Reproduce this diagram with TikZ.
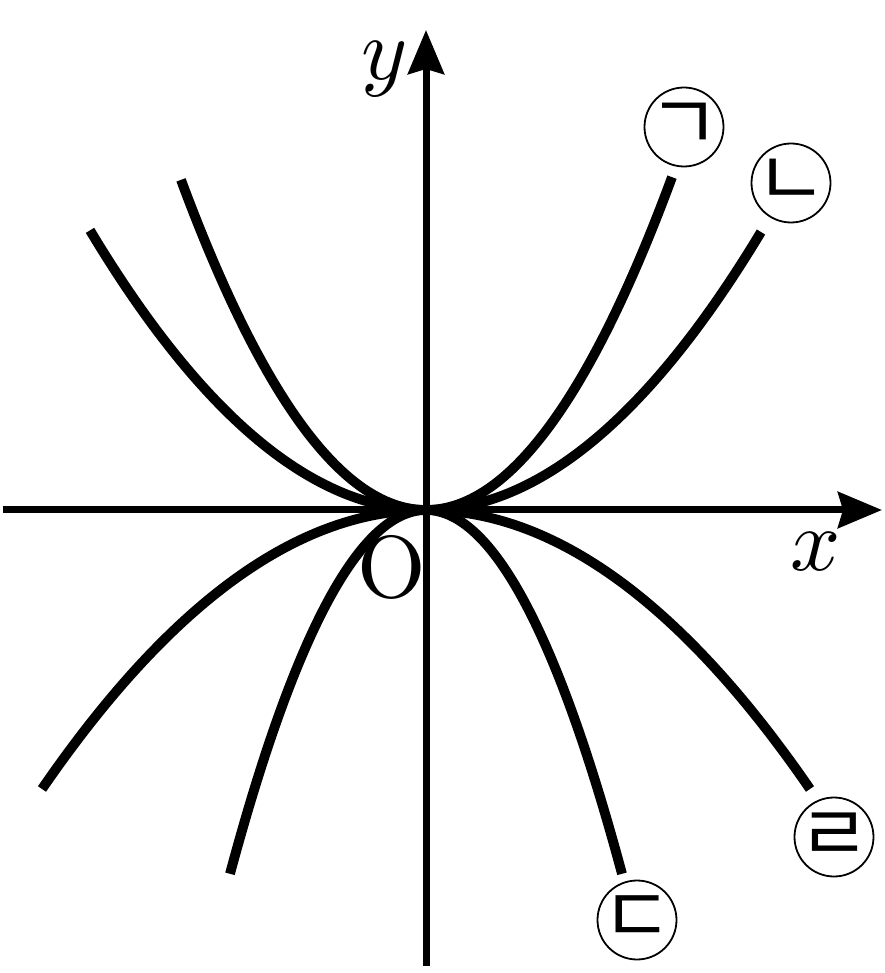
\documentclass[tikz,border=0pt]{standalone}
\usepackage{fontspec}
\newfontfamily\krfont{Noto Sans CJK KR}
\usetikzlibrary{arrows.meta}
\begin{document}
\begin{tikzpicture}[x=1pt,y=1pt,
  axis/.style={line width=7pt,-{Stealth[length=44pt,width=36pt,inset=5pt]}},
  curve/.style={line width=9.8pt},
  ring/.style={circle,draw,line width=1.8pt,minimum size=79pt,inner sep=0pt},
  jamo/.style={inner sep=0pt,font=\krfont\fontsize{78}{78}\selectfont},
  lbl/.style={inner sep=0pt}]
\useasboundingbox (-426,-463) rectangle (458,510);
\coordinate (O) at (0,0);
\coordinate (xs) at (-423,0);
\coordinate (xe) at (456,0);
\coordinate (ys) at (0,-456);
\coordinate (ye) at (0,480);
% axes
\draw[axis] (xs) -- (xe);
\draw[axis] (ys) -- (ye);
% curves
\draw[curve] plot[domain=-245:246,samples=121,smooth] (\x,{(\x/100)*(\x/100)*55.0});
\draw[curve] plot[domain=-336:335,samples=121,smooth] (\x,{(\x/100)*(\x/100)*24.77});
\draw[curve] plot[domain=-196:196,samples=121,smooth] (\x,{-(\x/100)*(\x/100)*94.7});
\draw[curve] plot[domain=-384:384,samples=121,smooth] (\x,{-(\x/100)*(\x/100)*18.92});
% labels
\node[lbl] (ylab) at (-41,441) {\scalebox{8.8}{$y$}};
\node[lbl] (xlab) at (390,-42) {\scalebox{8.8}{$x$}};
\node[lbl] (olab) at (-34,-57) {\scalebox{8.8}{O}};
\node[ring] (ga) at (258,383) {};
\node[ring] (na) at (365,327) {};
\node[ring] (da) at (211,-410) {};
\node[ring] (ra) at (408,-327) {};
\node[jamo] (gat) at (ga.center) {ㄱ};
\node[jamo] (nat) at (na.center) {ㄴ};
\node[jamo] (dat) at (da.center) {ㄷ};
\node[jamo] (rat) at (ra.center) {ㄹ};
\end{tikzpicture}
\end{document}
